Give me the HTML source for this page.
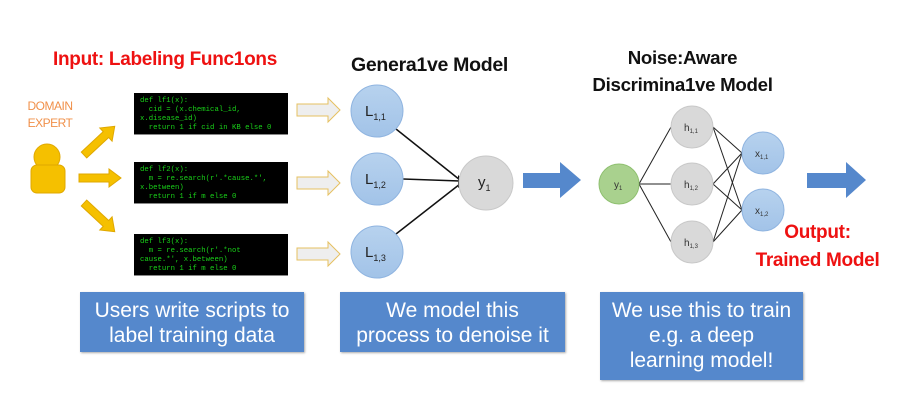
<!DOCTYPE html>
<html><head><meta charset="utf-8"><style>
body{margin:0;width:900px;height:400px;background:#fff;overflow:hidden;position:relative;font-family:"Liberation Sans",sans-serif}
.t{position:absolute;font-weight:bold;white-space:nowrap}
.code{position:absolute;background:#000;left:134px;width:154px;height:42px;color:#19d219;font-family:"Liberation Mono",monospace;font-size:7.3px;line-height:9px;padding:4px 0 0 6px;box-sizing:border-box;white-space:pre;border-bottom:1px solid #888}
.box{position:absolute;background:#5588cc;color:#fff;font-size:21px;line-height:25px;text-align:center;box-shadow:1px 1px 2px #aaa;padding-top:6px;box-sizing:border-box;white-space:nowrap}
</style></head><body>
<div class="t" style="left:53px;top:49px;font-size:19px;color:#ee1111;letter-spacing:-0.3px">Input: Labeling Func1ons</div>
<div style="position:absolute;left:20px;top:98px;width:60px;text-align:center;color:#f0904a;font-size:12px;line-height:17px;letter-spacing:-0.5px">DOMAIN<br>EXPERT</div>
<div class="code" style="top:93px">def lf1(x):
  cid = (x.chemical_id,
x.disease_id)
  return 1 if cid in KB else 0</div>
<div class="code" style="top:162px">def lf2(x):
  m = re.search(r'.*cause.*',
x.between)
  return 1 if m else 0</div>
<div class="code" style="top:234px">def lf3(x):
  m = re.search(r'.*not
cause.*', x.between)
  return 1 if m else 0</div>
<div class="t" style="left:351px;top:54px;font-size:19.5px;color:#111;letter-spacing:-0.3px">Genera1ve Model</div>
<div class="t" style="left:580px;top:44px;width:205px;text-align:center;font-size:18.7px;line-height:27px;color:#111;letter-spacing:-0.3px">Noise:Aware<br>Discrimina1ve Model</div>
<div class="t" style="left:745px;top:219px;width:145px;text-align:center;font-size:19px;line-height:28px;color:#ee1111;letter-spacing:-0.3px">Output:<br>Trained Model</div>
<div class="box" style="left:80px;top:292px;width:224px;height:60px">Users write scripts to<br>label training data</div>
<div class="box" style="left:340px;top:292px;width:225px;height:60px">We model this<br>process to denoise it</div>
<div class="box" style="left:600px;top:292px;width:203px;height:88px">We use this to train<br>e.g. a deep<br>learning model!</div>
<svg width="900" height="400" style="position:absolute;left:0;top:0" font-family="Liberation Sans,sans-serif">
<defs><linearGradient id="bl" x1="0" y1="0" x2="0" y2="1"><stop offset="0" stop-color="#b7d2ee"/><stop offset="1" stop-color="#a2c3e8"/></linearGradient></defs>
<circle cx="47" cy="157" r="13" fill="#f5c000" stroke="#e0a800"/>
<rect x="31" y="165" width="34" height="28" rx="6" fill="#f5c000" stroke="#e0a800"/>
<g fill="#f5c000" stroke="#e0a800" stroke-width="1">
<polygon points="0,-4 30,-4 30,-9 42,0 30,9 30,4 0,4" transform="translate(84,155) rotate(-43)"/>
<polygon points="0,-4 30,-4 30,-9 42,0 30,9 30,4 0,4" transform="translate(79,178)"/>
<polygon points="0,-4 30,-4 30,-9 42,0 30,9 30,4 0,4" transform="translate(84,203) rotate(43)"/>
</g>
<g fill="#eeeeee" stroke="#e6c060" stroke-width="1">
<polygon points="297,104 328,104 328,98 340,110 328,122 328,116 297,116"/>
<polygon points="297,177 328,177 328,171 340,183 328,195 328,189 297,189"/>
<polygon points="297,248 328,248 328,242 340,254 328,266 328,260 297,260"/>
</g>
<g stroke="#111" stroke-width="1.5">
<line x1="396" y1="129" x2="460" y2="180"/>
<line x1="403" y1="179" x2="460" y2="181"/>
<line x1="396" y1="234" x2="460" y2="184"/>
</g>
<polygon points="458,175 465,182 458,188" fill="#111"/>
<g fill="url(#bl)" stroke="#8fb4e0">
<circle cx="377" cy="111" r="26"/><circle cx="377" cy="179" r="26"/><circle cx="377" cy="252" r="26"/>
</g>
<circle cx="486" cy="183" r="27" fill="#d9d9d9" stroke="#c8c8c8"/>
<g font-size="15" fill="#222">
<text x="365" y="116">L<tspan font-size="9" dy="4">1,1</tspan></text>
<text x="365" y="184">L<tspan font-size="9" dy="4">1,2</tspan></text>
<text x="365" y="257">L<tspan font-size="9" dy="4">1,3</tspan></text>
<text x="478" y="187">y<tspan font-size="9" dy="4">1</tspan></text>
</g>
<polygon points="523,173 560,173 560,162 581,180 560,198 560,188 523,188" fill="#5588cc"/>
<polygon points="807,173 846,173 846,162 866,180 846,198 846,188 807,188" fill="#5588cc"/>
<g stroke="#222" stroke-width="1">
<line x1="639" y1="184" x2="671" y2="127"/><line x1="639" y1="184" x2="671" y2="184"/><line x1="639" y1="184" x2="671" y2="242"/>
<line x1="713" y1="127" x2="742" y2="153"/><line x1="713" y1="127" x2="742" y2="210"/>
<line x1="713" y1="184" x2="742" y2="153"/><line x1="713" y1="184" x2="742" y2="210"/>
<line x1="713" y1="242" x2="742" y2="153"/><line x1="713" y1="242" x2="742" y2="210"/>
</g>
<circle cx="619" cy="184" r="20" fill="#a9d18e" stroke="#8fc070"/>
<g fill="#d9d9d9" stroke="#c8c8c8"><circle cx="692" cy="127" r="21"/><circle cx="692" cy="184" r="21"/><circle cx="692" cy="242" r="21"/></g>
<g fill="url(#bl)" stroke="#8fb4e0"><circle cx="763" cy="153" r="21"/><circle cx="763" cy="210" r="21"/></g>
<g font-size="10" fill="#333">
<text x="614" y="188">y<tspan font-size="6" dy="2">1</tspan></text>
<text x="684" y="131">h<tspan font-size="6" dy="2">1,1</tspan></text>
<text x="684" y="188">h<tspan font-size="6" dy="2">1,2</tspan></text>
<text x="684" y="246">h<tspan font-size="6" dy="2">1,3</tspan></text>
<text x="755" y="157">x<tspan font-size="6" dy="2">1,1</tspan></text>
<text x="755" y="214">x<tspan font-size="6" dy="2">1,2</tspan></text>
</g>
</svg>
</body></html>
